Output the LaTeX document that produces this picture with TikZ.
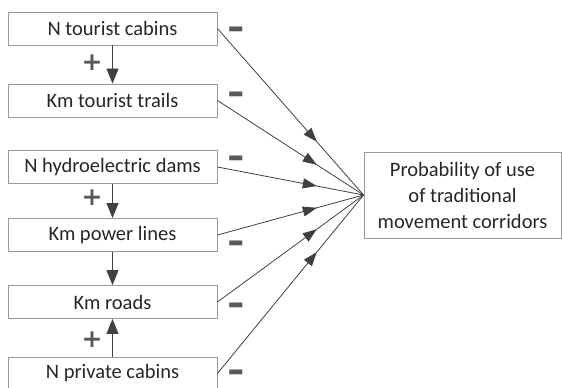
\documentclass[tikz,border=0pt]{standalone}
\usepackage{fontspec}
\usepackage{graphicx}
\setmainfont{Carlito}
\newfontfamily\signfont{DejaVu Sans}
\newcommand{\thickminus}{\smash{\raisebox{-13.4pt}{\scalebox{0.95}[1.9]{−}}}}
\usetikzlibrary{arrows.meta}
\usetikzlibrary{decorations.markings}
\usetikzlibrary{positioning}

\begin{document}
\begin{tikzpicture}[x=1pt,y=1pt,
      box/.style={draw=black!40,line width=0.9pt,minimum width=209pt,minimum height=33pt,
        inner sep=0pt,font=\fontsize{20.5}{26}\selectfont,text=black!85},
      sign/.style={font=\signfont\bfseries\fontsize{22}{22}\selectfont,text=black!65,inner sep=0pt},
      plus/.style={sign,font=\signfont\bfseries\fontsize{25}{25}\selectfont},
      link/.style={draw=black!75,line width=0.8pt},
      tip/.style={-{Triangle[length=15pt,width=12pt]},draw=black!75,fill=black!70,line width=0.8pt},
      midtip/.style={link,postaction={decorate},decoration={markings,
        mark=at position 0.68 with {\arrow[fill=black!70]{Triangle[length=14pt,width=10pt]}}}},
    ]
        \useasboundingbox (0,0) rectangle (562,388);
        \node[box] (cabins) at (112.5,359.5) {N tourist cabins};
        \node[box] (trails) at (112.5,287.5) {Km tourist trails};
        \node[box] (dams) at (112.5,221) {N hydroelectric dams};
        \node[box] (power) at (112.5,153) {Km power lines};
        \node[box] (roads) at (112.5,86) {Km roads};
        \node[box] (private) at (112.5,14.5) {N private cabins};
        \node[box,minimum width=197pt,minimum height=86pt,align=center] (prob) at (462.5,193)
            {Probability of use\\of traditional\\movement corridors};

        \draw[tip] (cabins) -- (trails);
        \draw[tip] (dams) -- (power);
        \draw[tip] (power) -- (roads);
        \draw[tip] (private) -- (roads);

        \foreach \src in {cabins,trails,dams,power,roads,private}
            \draw[midtip] (\src.east) -- (prob.west);

        \node[plus] at (92,325) {+};
        \node[plus] at (92,190) {+};
        \node[plus] at (92,48) {+};
        \node[sign] at (236,359) {\thickminus};
        \node[sign] at (236,294) {\thickminus};
        \node[sign] at (236,230) {\thickminus};
        \node[sign] at (236,145) {\thickminus};
        \node[sign] at (236,83) {\thickminus};
        \node[sign] at (236,16) {\thickminus};
    \end{tikzpicture}
\end{document}
